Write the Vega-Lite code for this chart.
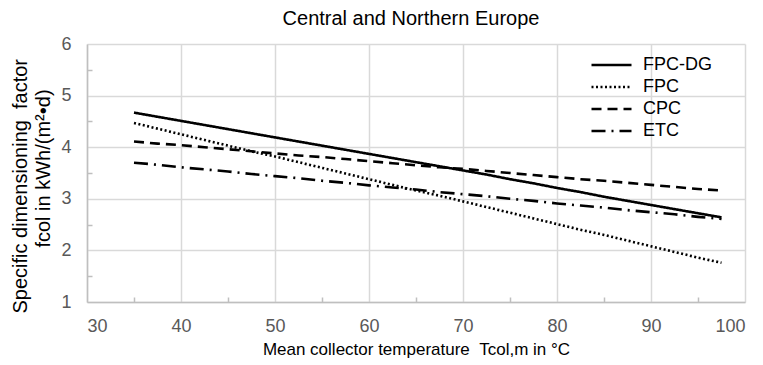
{
  "$schema": "https://vega.github.io/schema/vega-lite/v6.json",
  "width": 658,
  "height": 258,
  "autosize": {"type": "none"},
  "padding": {"left": 87, "top": 44, "right": 18, "bottom": 63},
  "background": "white",
  "title": {
    "text": "Central and Northern Europe",
    "font": "Liberation Sans",
    "fontSize": 20,
    "fontWeight": "normal",
    "color": "#000000",
    "anchor": "middle",
    "frame": "group",
    "baseline": "alphabetic",
    "offset": -22,
    "dx": -5
  },
  "config": {
    "view": {"stroke": null},
    "font": "Liberation Sans",
    "axis": {
      "labelFont": "Liberation Sans",
      "labelFontSize": 18,
      "labelColor": "#595959",
      "titleFont": "Liberation Sans",
      "titleFontSize": 18,
      "titleFontWeight": "normal",
      "titleColor": "#000000",
      "domainColor": "#bfbfbf",
      "domainWidth": 1.5,
      "gridColor": "#d9d9d9",
      "gridWidth": 1.5,
      "tickColor": "#bfbfbf",
      "tickWidth": 1.5
    },
    "legend": {
      "labelFont": "Liberation Sans",
      "labelFontSize": 18,
      "labelColor": "#000000"
    }
  },
  "data": {
    "values": [
      {"T": 35, "f": 4.67, "s": "FPC-DG"}, {"T": 37.5, "f": 4.59, "s": "FPC-DG"}, {"T": 40, "f": 4.51, "s": "FPC-DG"}, {"T": 42.5, "f": 4.43, "s": "FPC-DG"},
      {"T": 45, "f": 4.35, "s": "FPC-DG"}, {"T": 47.5, "f": 4.27, "s": "FPC-DG"}, {"T": 50, "f": 4.19, "s": "FPC-DG"}, {"T": 52.5, "f": 4.11, "s": "FPC-DG"},
      {"T": 55, "f": 4.03, "s": "FPC-DG"}, {"T": 57.5, "f": 3.95, "s": "FPC-DG"}, {"T": 60, "f": 3.87, "s": "FPC-DG"}, {"T": 62.5, "f": 3.79, "s": "FPC-DG"},
      {"T": 65, "f": 3.71, "s": "FPC-DG"}, {"T": 67.5, "f": 3.63, "s": "FPC-DG"}, {"T": 70, "f": 3.55, "s": "FPC-DG"}, {"T": 72.5, "f": 3.47, "s": "FPC-DG"},
      {"T": 75, "f": 3.38, "s": "FPC-DG"}, {"T": 77.5, "f": 3.30, "s": "FPC-DG"}, {"T": 80, "f": 3.21, "s": "FPC-DG"}, {"T": 82.5, "f": 3.13, "s": "FPC-DG"},
      {"T": 85, "f": 3.04, "s": "FPC-DG"}, {"T": 87.5, "f": 2.96, "s": "FPC-DG"}, {"T": 90, "f": 2.88, "s": "FPC-DG"}, {"T": 92.5, "f": 2.80, "s": "FPC-DG"},
      {"T": 95, "f": 2.72, "s": "FPC-DG"}, {"T": 97.5, "f": 2.64, "s": "FPC-DG"},
      {"T": 35, "f": 4.47, "s": "FPC"}, {"T": 37.5, "f": 4.36, "s": "FPC"}, {"T": 40, "f": 4.25, "s": "FPC"}, {"T": 42.5, "f": 4.14, "s": "FPC"},
      {"T": 45, "f": 4.03, "s": "FPC"}, {"T": 47.5, "f": 3.92, "s": "FPC"}, {"T": 50, "f": 3.82, "s": "FPC"}, {"T": 52.5, "f": 3.71, "s": "FPC"},
      {"T": 55, "f": 3.60, "s": "FPC"}, {"T": 57.5, "f": 3.49, "s": "FPC"}, {"T": 60, "f": 3.38, "s": "FPC"}, {"T": 62.5, "f": 3.27, "s": "FPC"},
      {"T": 65, "f": 3.16, "s": "FPC"}, {"T": 67.5, "f": 3.06, "s": "FPC"}, {"T": 70, "f": 2.95, "s": "FPC"}, {"T": 72.5, "f": 2.84, "s": "FPC"},
      {"T": 75, "f": 2.73, "s": "FPC"}, {"T": 77.5, "f": 2.62, "s": "FPC"}, {"T": 80, "f": 2.51, "s": "FPC"}, {"T": 82.5, "f": 2.40, "s": "FPC"},
      {"T": 85, "f": 2.30, "s": "FPC"}, {"T": 87.5, "f": 2.19, "s": "FPC"}, {"T": 90, "f": 2.08, "s": "FPC"}, {"T": 92.5, "f": 1.97, "s": "FPC"},
      {"T": 95, "f": 1.86, "s": "FPC"}, {"T": 97.5, "f": 1.76, "s": "FPC"},
      {"T": 35, "f": 4.11, "s": "CPC"}, {"T": 37.5, "f": 4.07, "s": "CPC"}, {"T": 40, "f": 4.04, "s": "CPC"}, {"T": 42.5, "f": 4.00, "s": "CPC"},
      {"T": 45, "f": 3.96, "s": "CPC"}, {"T": 47.5, "f": 3.92, "s": "CPC"}, {"T": 50, "f": 3.88, "s": "CPC"}, {"T": 52.5, "f": 3.84, "s": "CPC"},
      {"T": 55, "f": 3.81, "s": "CPC"}, {"T": 57.5, "f": 3.77, "s": "CPC"}, {"T": 60, "f": 3.73, "s": "CPC"}, {"T": 62.5, "f": 3.69, "s": "CPC"},
      {"T": 65, "f": 3.65, "s": "CPC"}, {"T": 67.5, "f": 3.61, "s": "CPC"}, {"T": 70, "f": 3.58, "s": "CPC"}, {"T": 72.5, "f": 3.54, "s": "CPC"},
      {"T": 75, "f": 3.50, "s": "CPC"}, {"T": 77.5, "f": 3.46, "s": "CPC"}, {"T": 80, "f": 3.42, "s": "CPC"}, {"T": 82.5, "f": 3.38, "s": "CPC"},
      {"T": 85, "f": 3.35, "s": "CPC"}, {"T": 87.5, "f": 3.31, "s": "CPC"}, {"T": 90, "f": 3.27, "s": "CPC"}, {"T": 92.5, "f": 3.23, "s": "CPC"},
      {"T": 95, "f": 3.19, "s": "CPC"}, {"T": 97.5, "f": 3.16, "s": "CPC"},
      {"T": 35, "f": 3.70, "s": "ETC"}, {"T": 37.5, "f": 3.66, "s": "ETC"}, {"T": 40, "f": 3.61, "s": "ETC"}, {"T": 42.5, "f": 3.57, "s": "ETC"},
      {"T": 45, "f": 3.53, "s": "ETC"}, {"T": 47.5, "f": 3.48, "s": "ETC"}, {"T": 50, "f": 3.44, "s": "ETC"}, {"T": 52.5, "f": 3.40, "s": "ETC"},
      {"T": 55, "f": 3.35, "s": "ETC"}, {"T": 57.5, "f": 3.31, "s": "ETC"}, {"T": 60, "f": 3.26, "s": "ETC"}, {"T": 62.5, "f": 3.22, "s": "ETC"},
      {"T": 65, "f": 3.18, "s": "ETC"}, {"T": 67.5, "f": 3.13, "s": "ETC"}, {"T": 70, "f": 3.09, "s": "ETC"}, {"T": 72.5, "f": 3.05, "s": "ETC"},
      {"T": 75, "f": 3.00, "s": "ETC"}, {"T": 77.5, "f": 2.96, "s": "ETC"}, {"T": 80, "f": 2.91, "s": "ETC"}, {"T": 82.5, "f": 2.87, "s": "ETC"},
      {"T": 85, "f": 2.83, "s": "ETC"}, {"T": 87.5, "f": 2.78, "s": "ETC"}, {"T": 90, "f": 2.74, "s": "ETC"}, {"T": 92.5, "f": 2.70, "s": "ETC"},
      {"T": 95, "f": 2.65, "s": "ETC"}, {"T": 97.5, "f": 2.61, "s": "ETC"}
    ]
  },
  "mark": {"type": "line", "color": "#000000", "strokeWidth": 2.6},
  "encoding": {
    "x": {
      "field": "T",
      "type": "quantitative",
      "scale": {"domain": [30, 100], "nice": false, "zero": false},
      "axis": {
        "values": [30, 35, 40, 45, 50, 55, 60, 65, 70, 75, 80, 85, 90, 95, 100],
        "labelExpr": "datum.value % 10 ? '' : datum.label",
        "gridOpacity": {"condition": {"test": "datum.value % 10 !== 0", "value": 0}, "value": 1},
        "tickSize": {"condition": {"test": "datum.value % 10 !== 0", "value": -5}, "value": 0},
        "labelPadding": 15,
        "title": "Mean collector temperature\u00a0\u00a0Tcol,m in °C",
        "titleFontSize": 17,
        "titlePadding": 6
      }
    },
    "y": {
      "field": "f",
      "type": "quantitative",
      "scale": {"domain": [1, 6], "nice": false, "zero": false},
      "axis": {
        "values": [1, 1.5, 2, 2.5, 3, 3.5, 4, 4.5, 5, 5.5, 6],
        "labelExpr": "datum.value % 1 ? '' : format(datum.value, 'd')",
        "gridOpacity": {"condition": {"test": "datum.value % 1 !== 0", "value": 0}, "value": 1},
        "tickSize": {"condition": {"test": "datum.value % 1 !== 0", "value": -5}, "value": 0},
        "labelPadding": 16,
        "title": ["Specific dimensioning\u00a0\u00a0factor\u00a0\u2800\u2800", "fcol in kWh/(m²•d)"],
        "titleFontSize": 20,
        "titleLineHeight": 23,
        "titleX": -67,
        "titleY": 124,
        "titleBaseline": "middle",
        "titleAngle": -90
      }
    },
    "strokeDash": {
      "field": "s",
      "type": "nominal",
      "scale": {
        "domain": ["FPC-DG", "FPC", "CPC", "ETC"],
        "range": [[1, 0], [2, 2.5], [10, 6], [14, 6, 2, 6]]
      },
      "legend": {
        "title": null,
        "orient": "none",
        "legendX": 503,
        "legendY": 12,
        "symbolType": "stroke",
        "symbolSize": 1600,
        "symbolStrokeWidth": 2.6,
        "symbolStrokeColor": "#000000",
        "labelOffset": 10,
        "clipHeight": 18,
        "rowPadding": 4
      }
    }
  }
}
